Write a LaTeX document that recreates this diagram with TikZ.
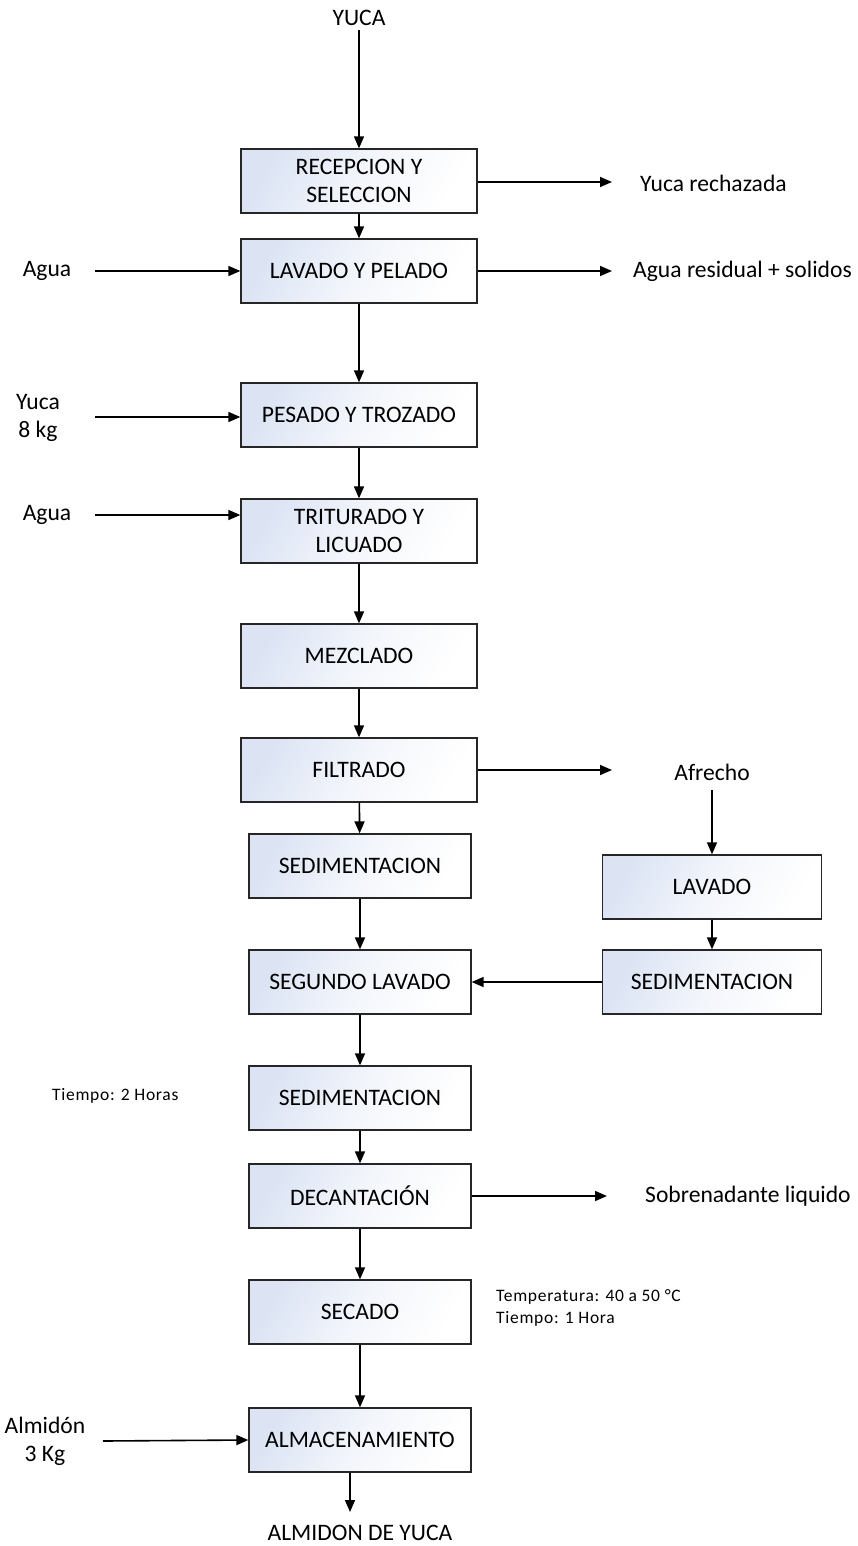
\documentclass[tikz,border=0pt]{standalone}
\usepackage{fontspec}
\setmainfont{Carlito}
\usetikzlibrary{arrows.meta,calc}
\definecolor{boxblue}{HTML}{DCE4F4}
\begin{document}
\begin{tikzpicture}[x=1pt,y=-1pt,
  font=\fontsize{23.6}{28}\selectfont,
  procbox/.style={draw=black!85,line width=1.3pt,top color=boxblue,bottom color=white,middle color=boxblue!35!white,shading angle=60,
    minimum height=64pt,inner sep=0pt,align=center},
  wide/.style={procbox,minimum width=236pt},
  narrow/.style={procbox,minimum width=222pt},
  rbox/.style={procbox,minimum width=219pt},
  flow/.style={line width=1.6pt,-{Triangle[length=12pt,width=10pt]}},
  small/.style={font=\fontsize{17.5}{21.5}\selectfont\addfontfeatures{LetterSpace=4}},
  lbl/.style={inner sep=0pt,align=center}]
\useasboundingbox (0,0) rectangle (857,1546);
% boxes
\node[wide] (rec) at (359,181) {RECEPCION Y\\SELECCION};
\node[wide] (lav) at (359,271) {LAVADO Y PELADO};
\node[wide] (pes) at (359,415) {PESADO Y TROZADO};
\node[wide] (tri) at (359,531) {TRITURADO Y\\LICUADO};
\node[wide] (mez) at (359,656) {MEZCLADO};
\node[wide] (fil) at (359,770) {FILTRADO};
\node[narrow] (sed1) at (360,866) {SEDIMENTACION};
\node[narrow] (seg) at (360,982) {SEGUNDO LAVADO};
\node[narrow] (sed2) at (360,1098) {SEDIMENTACION};
\node[narrow] (dec) at (360,1196) {DECANTACIÓN};
\node[narrow] (sec) at (360,1312) {SECADO};
\node[narrow] (alm) at (360,1440) {ALMACENAMIENTO};
\node[rbox] (lavr) at (712,887) {LAVADO};
\node[rbox] (sedr) at (712,982) {SEDIMENTACION};
% labels
\node[lbl] (yuca) at (359,18) {YUCA};
\node[lbl,anchor=west] (rech) at (640,183) {Yuca rechazada};
\node[lbl] (agua1) at (47,271) {Agua};
\node[lbl,anchor=west] (resid) at (633,271) {Agua residual + solidos};
\node[lbl] (yuca8) at (38,418) {Yuca\\8 kg};
\node[lbl] (agua2) at (47,515) {Agua};
\node[lbl] (afre) at (712,772) {Afrecho};
\node[lbl,small,anchor=west] (t2) at (52,1096) {Tiempo: 2 Horas};
\node[lbl,anchor=west] (sobre) at (645,1196) {Sobrenadante liquido};
\node[lbl,small,anchor=west,align=left] (temp) at (496,1308) {Temperatura: 40 a 50 °C\\Tiempo: 1 Hora};
\node[lbl] (almi) at (45,1441) {Almidón\\3 Kg};
\node[lbl] (final) at (360,1533) {ALMIDON DE YUCA};
% free ends
\coordinate (cYuca) at (359,30);
\coordinate (cRech) at (612,182);
\coordinate (cAgua1) at (95,271);
\coordinate (cResid) at (612,271);
\coordinate (cYuca8) at (95,417);
\coordinate (cAgua2) at (95,515);
\coordinate (cAfre) at (712,790);
\coordinate (cFil) at (612,770);
\coordinate (cSobre) at (607,1196);
\coordinate (cAlmi) at (103,1441);
\coordinate (cOut) at (350,1512);
% connectors
\draw[flow] (cYuca) -- (rec.north);
\draw[flow] (rec.east |- cRech) -- (cRech);
\draw[flow] (rec) -- (lav);
\draw[flow] (cAgua1) -- (lav.west);
\draw[flow] (lav.east) -- (cResid);
\draw[flow] (lav) -- (pes);
\draw[flow] (cYuca8) -- (pes.west |- cYuca8);
\draw[flow] (pes) -- (tri);
\draw[flow] (cAgua2) -- (tri.west |- cAgua2);
\draw[flow] (tri) -- (mez);
\draw[flow] (mez) -- (fil);
\draw[flow] (fil.east) -- (cFil);
\draw[flow] (fil) -- (sed1);
\draw[flow] (cAfre) -- (lavr.north);
\draw[flow] (lavr) -- (sedr);
\draw[flow] (sedr.west) -- (seg.east);
\draw[flow] (sed1) -- (seg);
\draw[flow] (seg) -- (sed2);
\draw[flow] (sed2) -- (dec);
\draw[flow] (dec.east) -- (cSobre);
\draw[flow] (dec) -- (sec);
\draw[flow] (sec) -- (alm);
\draw[flow] (cAlmi) -- (alm.west);
\draw[flow] (alm.south -| cOut) -- (cOut);
\end{tikzpicture}
\end{document}
